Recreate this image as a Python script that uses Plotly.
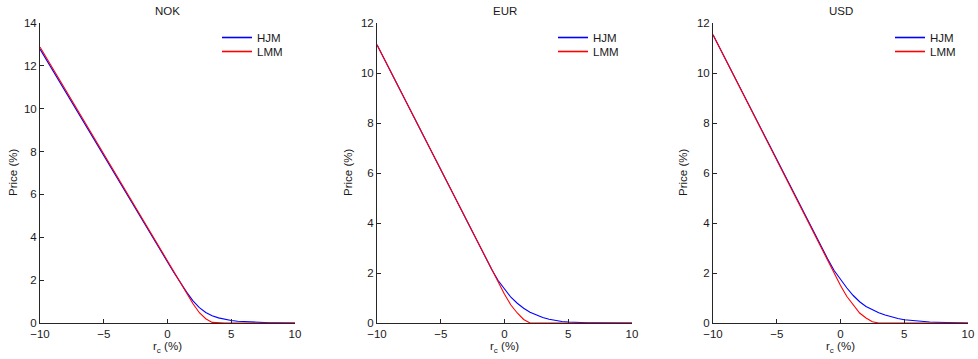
import plotly.graph_objects as go

# Strike grid (r_c, %)
rc = [-10, -9.5, -9, -8.5, -8, -7.5, -7, -6.5, -6, -5.5, -5, -4.5, -4, -3.5, -3, -2.5,
      -2, -1.5, -1, -0.5, 0, 0.5, 1, 1.5, 2, 2.5, 3, 3.5, 4, 4.5, 5, 5.5, 6, 6.5, 7,
      7.5, 8, 8.5, 9, 9.5, 10]

nok_hjm = [12.78, 12.28, 11.79, 11.29, 10.79, 10.29, 9.80, 9.30, 8.80, 8.31, 7.81, 7.31,
           6.82, 6.32, 5.82, 5.33, 4.83, 4.33, 3.84, 3.34, 2.85, 2.36, 1.88, 1.44, 1.03,
           0.72, 0.49, 0.34, 0.24, 0.17, 0.12, 0.08, 0.06, 0.04, 0.03, 0.02, 0.01, 0.01,
           0.005, 0.003, 0.002]
nok_lmm = [12.88, 12.38, 11.88, 11.38, 10.88, 10.38, 9.88, 9.38, 8.88, 8.38, 7.88, 7.38,
           6.88, 6.38, 5.88, 5.38, 4.88, 4.38, 3.88, 3.38, 2.88, 2.39, 1.90, 1.38, 0.90,
           0.48, 0.20, 0.03, 0, 0, 0, 0, 0, 0, 0, 0, 0, 0, 0, 0, 0]

eur_hjm = [11.13, 10.63, 10.13, 9.63, 9.13, 8.63, 8.13, 7.63, 7.13, 6.63, 6.13, 5.63,
           5.13, 4.63, 4.13, 3.63, 3.13, 2.63, 2.14, 1.70, 1.34, 1.03, 0.79, 0.59, 0.43,
           0.31, 0.22, 0.15, 0.10, 0.06, 0.04, 0.02, 0.01, 0.01, 0.005, 0.003, 0.002,
           0.001, 0, 0, 0]
eur_lmm = [11.13, 10.63, 10.13, 9.63, 9.13, 8.63, 8.13, 7.63, 7.13, 6.63, 6.13, 5.63,
           5.13, 4.63, 4.13, 3.63, 3.13, 2.63, 2.13, 1.63, 1.15, 0.72, 0.40, 0.14, 0.0,
           0, 0, 0, 0, 0, 0, 0, 0, 0, 0, 0, 0, 0, 0, 0, 0]

usd_hjm = [11.53, 11.03, 10.53, 10.03, 9.53, 9.03, 8.53, 8.03, 7.53, 7.03, 6.53, 6.03,
           5.53, 5.03, 4.53, 4.03, 3.54, 3.05, 2.56, 2.10, 1.73, 1.40, 1.10, 0.85, 0.66,
           0.52, 0.41, 0.32, 0.24, 0.18, 0.13, 0.10, 0.07, 0.05, 0.04, 0.03, 0.02, 0.01,
           0.01, 0.005, 0.003]
usd_lmm = [11.53, 11.03, 10.53, 10.03, 9.53, 9.03, 8.53, 8.03, 7.53, 7.03, 6.53, 6.03,
           5.53, 5.03, 4.53, 4.03, 3.53, 3.03, 2.52, 1.99, 1.50, 1.06, 0.72, 0.40, 0.20,
           0.05, 0, 0, 0, 0, 0, 0, 0, 0, 0, 0, 0, 0, 0, 0, 0]

model_names = ["HJM", "LMM"]
model_colors = ["#0000ff", "#ff0000"]
titles = ["NOK", "EUR", "USD"]
series = [(nok_hjm, nok_lmm), (eur_hjm, eur_lmm), (usd_hjm, usd_lmm)]
yranges = [[0, 14], [0, 12], [0, 12]]
W = 978
PH = 300
xdoms = [[40 / W, 295 / W], [377 / W, 632 / W], [713 / W, 968 / W]]
legx = [217 / W, 553 / W, 890 / W]
ytitle_x = [13 / W, 348 / W, 683 / W]

FONT = "Liberation Sans, Arial, Helvetica, sans-serif"
FS = 11.5
TXT = "#1a1a1a"
AX = "#262626"

fig = go.Figure()
layout = dict(
    width=978, height=359,
    margin=dict(l=0, r=0, t=23, b=36, autoexpand=False),
    paper_bgcolor="white", plot_bgcolor="white",
    font=dict(family=FONT, size=FS, color=TXT),
    showlegend=True,
    annotations=[],
)

for i, (t, vals) in enumerate(zip(titles, series)):
    n = "" if i == 0 else str(i + 1)
    for k, (name, col, y) in enumerate(zip(model_names, model_colors, vals)):
        leg = "legend" if (i == 0 and k == 0) else f"legend{2 * i + k + 1}"
        # data curve
        fig.add_trace(go.Scatter(x=rc, y=y, mode="lines", name=name,
                                 line=dict(color=col, width=1.1), showlegend=False,
                                 xaxis="x" + n, yaxis="y" + n))
        # legend entry (no data)
        fig.add_trace(go.Scatter(x=[None], y=[None], mode="lines", name=name,
                                 line=dict(color=col, width=1.6), showlegend=True,
                                 xaxis="x" + n, yaxis="y" + n, legend=leg,
                                 hoverinfo="skip"))
        layout[leg] = dict(
            x=legx[i], y=1 - (k * 14) / PH, xanchor="left", yanchor="top",
            bgcolor="rgba(255,255,255,0)", borderwidth=0,
            font=dict(size=FS, color=TXT), itemwidth=30,
        )
    layout["xaxis" + n] = dict(
        domain=xdoms[i], range=[-10, 10], tickvals=[-10, -5, 0, 5, 10],
        ticks="inside", ticklen=4, tickcolor=AX, showline=True, linecolor=AX,
        linewidth=1, showgrid=False, zeroline=False, anchor="y" + n,
        automargin=False,
        tickfont=dict(size=FS, color=TXT),
        title=dict(text="r<sub>c</sub> (%)", font=dict(size=FS, color=TXT), standoff=3),
    )
    layout["yaxis" + n] = dict(
        domain=[0, 1], range=yranges[i], dtick=2,
        ticks="inside", ticklen=4, tickcolor=AX, showline=True, linecolor=AX,
        linewidth=1, showgrid=False, zeroline=False, anchor="x" + n,
        automargin=False,
        tickfont=dict(size=FS, color=TXT),
    )
    layout["annotations"].append(dict(
        text=t, x=(xdoms[i][0] + xdoms[i][1]) / 2, y=1, xref="paper", yref="paper",
        xanchor="center", yanchor="bottom", yshift=4, showarrow=False,
        font=dict(size=FS, color=TXT),
    ))
    layout["annotations"].append(dict(
        text="Price (%)", x=ytitle_x[i], y=0.5, xref="paper", yref="paper",
        xanchor="center", yanchor="middle", textangle=-90, showarrow=False,
        font=dict(size=FS, color=TXT),
    ))

fig.update_layout(**layout)
fig.write_html("out.html")
